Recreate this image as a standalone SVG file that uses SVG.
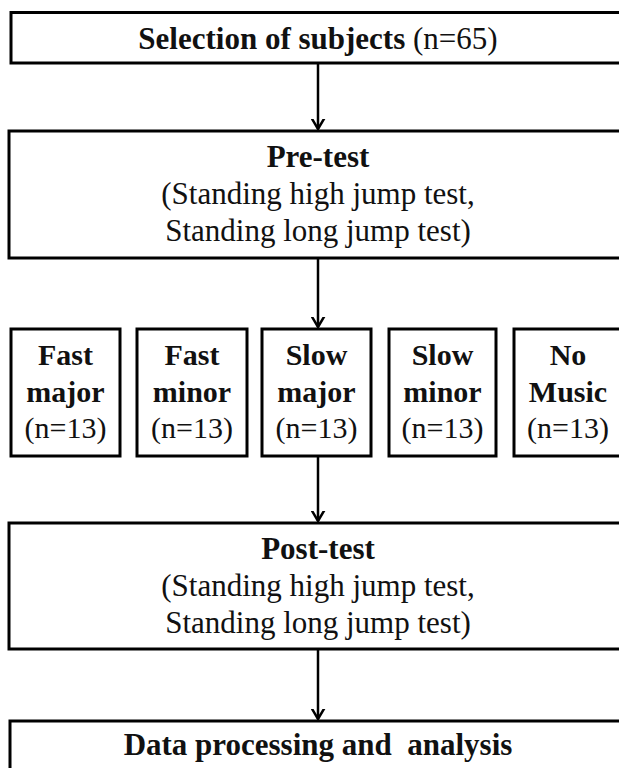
<svg xmlns="http://www.w3.org/2000/svg" width="619" height="768" viewBox="0 0 619 768">
  <style>
    .box { fill: #ffffff; stroke: #000000; stroke-width: 3; }
    text { font-family: 'Liberation Serif', Tinos, 'Times New Roman', 'DejaVu Serif', serif; fill: #111111; text-anchor: middle; }
    .t { font-size: 31px; }
    .s { font-size: 30px; }
    .b { font-weight: bold; }
    .conn { stroke: #000000; stroke-width: 2.5; fill: none; }
  </style>
  <defs>
    <marker id="arrow" markerUnits="userSpaceOnUse" markerWidth="20" markerHeight="20" refX="10" refY="13" orient="auto-start-reverse" viewBox="0 0 20 20">
      <polyline points="3.5,2 10,13 16.5,2" transform="rotate(-90 10 13)" fill="none" stroke="#000000" stroke-width="2.5" stroke-linejoin="miter"/>
    </marker>
  </defs>
  <rect x="0" y="0" width="619" height="768" fill="#ffffff"/>

  <g id="connectors">
    <line class="conn" x1="318" y1="64" x2="318" y2="129" marker-end="url(#arrow)"/>
    <line class="conn" x1="318" y1="259" x2="318" y2="327" marker-end="url(#arrow)"/>
    <line class="conn" x1="318" y1="457" x2="318" y2="521" marker-end="url(#arrow)"/>
    <line class="conn" x1="318" y1="650" x2="318" y2="719" marker-end="url(#arrow)"/>
  </g>

  <g id="selection">
    <rect class="box" x="11" y="12.5" width="640" height="50.5"/>
    <text class="t" x="318" y="49"><tspan font-weight="bold">Selection of subjects</tspan> (n=65)</text>
  </g>

  <g id="pretest">
    <rect class="box" x="9" y="131" width="640" height="127"/>
    <text class="t b" x="318" y="167">Pre-test</text>
    <text class="t" x="318" y="204">(Standing high jump test,</text>
    <text class="t" x="318" y="241">Standing long jump test)</text>
  </g>

  <g id="fast-major">
    <rect class="box" x="11" y="329" width="109" height="127"/>
    <text class="s b" x="65.5" y="365">Fast</text>
    <text class="s b" x="65.5" y="402">major</text>
    <text class="s" x="65.5" y="438">(n=13)</text>
  </g>

  <g id="fast-minor">
    <rect class="box" x="137" y="329" width="110" height="127"/>
    <text class="s b" x="192" y="365">Fast</text>
    <text class="s b" x="192" y="402">minor</text>
    <text class="s" x="192" y="438">(n=13)</text>
  </g>

  <g id="slow-major">
    <rect class="box" x="262" y="329" width="109" height="127"/>
    <text class="s b" x="316.5" y="365">Slow</text>
    <text class="s b" x="316.5" y="402">major</text>
    <text class="s" x="316.5" y="438">(n=13)</text>
  </g>

  <g id="slow-minor">
    <rect class="box" x="389" y="329" width="107" height="127"/>
    <text class="s b" x="442.5" y="365">Slow</text>
    <text class="s b" x="442.5" y="402">minor</text>
    <text class="s" x="442.5" y="438">(n=13)</text>
  </g>

  <g id="no-music">
    <rect class="box" x="514" y="329" width="109" height="127"/>
    <text class="s b" x="568" y="365">No</text>
    <text class="s b" x="568" y="402">Music</text>
    <text class="s" x="568" y="438">(n=13)</text>
  </g>

  <g id="posttest">
    <rect class="box" x="9" y="523" width="640" height="126"/>
    <text class="t b" x="318" y="559">Post-test</text>
    <text class="t" x="318" y="596">(Standing high jump test,</text>
    <text class="t" x="318" y="633">Standing long jump test)</text>
  </g>

  <g id="data">
    <rect class="box" x="10" y="721" width="640" height="80"/>
    <text class="t b" x="318" y="755" xml:space="preserve">Data processing and  analysis</text>
  </g>
</svg>
